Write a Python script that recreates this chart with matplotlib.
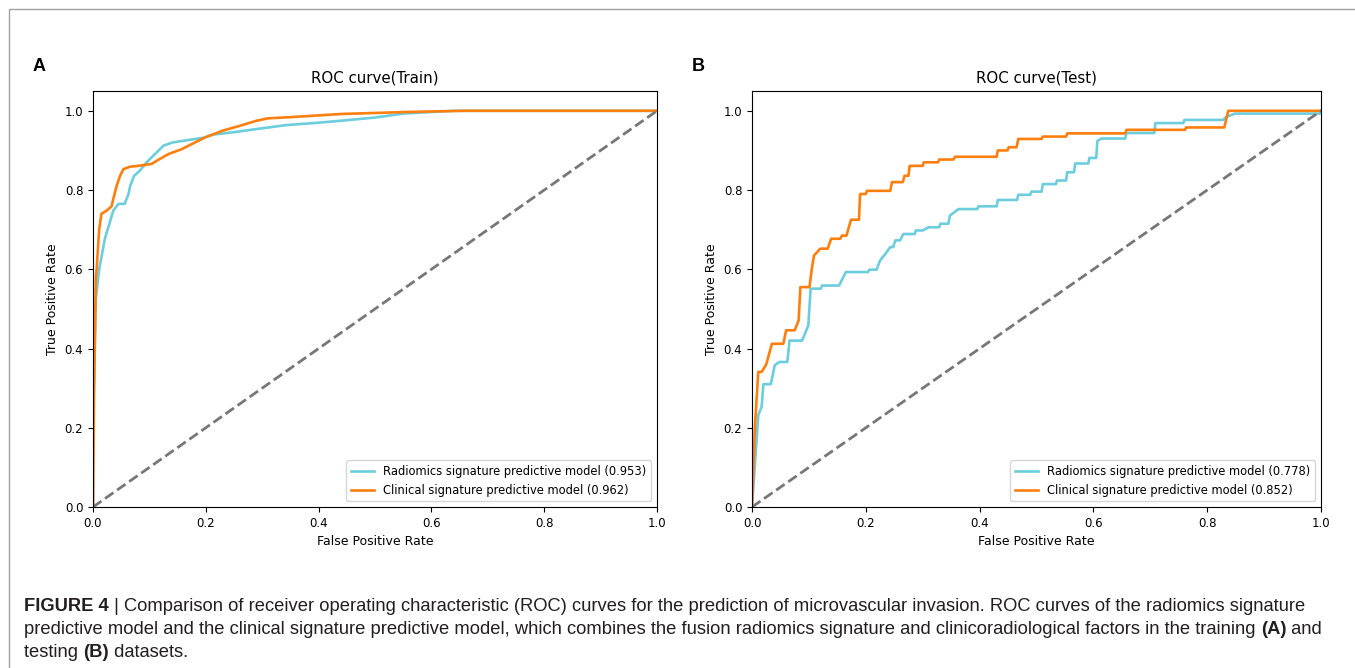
import matplotlib
matplotlib.use("Agg")
import matplotlib.pyplot as plt
from matplotlib.patches import Rectangle

# --- dados (vértices das curvas ROC) ---
train_rad_fpr = [0, 0.0, 0.005, 0.011, 0.021, 0.028, 0.036, 0.045, 0.056, 0.063, 0.066, 0.073,
                 0.083, 0.095, 0.11, 0.125, 0.141, 0.163, 0.196, 0.213, 0.25, 0.29, 0.343,
                 0.40, 0.44, 0.50, 0.55, 0.64, 1.0]
train_rad_tpr = [0, 0.2, 0.526, 0.60, 0.677, 0.71, 0.748, 0.765, 0.765, 0.79, 0.811, 0.836,
                 0.849, 0.87, 0.891, 0.912, 0.92, 0.925, 0.932, 0.94, 0.946, 0.954, 0.964,
                 0.97, 0.975, 0.983, 0.993, 1.0, 1.0]

train_cli_fpr = [0, 0.002, 0.005, 0.0065, 0.008, 0.011, 0.015, 0.024, 0.033, 0.036, 0.042, 0.048,
                 0.054, 0.066, 0.08, 0.104, 0.113, 0.134, 0.157, 0.175, 0.199, 0.23, 0.26,
                 0.29, 0.31, 0.35, 0.44, 0.556, 0.657, 1.0]
train_cli_tpr = [0, 0.3, 0.58, 0.60, 0.635, 0.702, 0.74, 0.748, 0.759, 0.778, 0.811, 0.836,
                 0.853, 0.859, 0.861, 0.866, 0.874, 0.891, 0.903, 0.916, 0.933, 0.95, 0.962,
                 0.975, 0.981, 0.984, 0.992, 0.997, 1.0, 1.0]

test_rad_fpr = [0, 0.011, 0.017, 0.02, 0.033, 0.040, 0.048, 0.062, 0.066, 0.088, 0.099, 0.103,
                0.121, 0.123, 0.153, 0.165, 0.204, 0.206, 0.219, 0.225, 0.235, 0.243, 0.248,
                0.252, 0.26, 0.266, 0.286, 0.288, 0.30, 0.31, 0.329, 0.331, 0.345, 0.348,
                0.363, 0.396, 0.398, 0.43, 0.432, 0.466, 0.468, 0.489, 0.491, 0.509, 0.511,
                0.534, 0.536, 0.552, 0.554, 0.566, 0.568, 0.591, 0.593, 0.605, 0.607, 0.614,
                0.656, 0.658, 0.707, 0.709, 0.758, 0.760, 0.828, 0.834, 0.849, 0.998, 1.0]
test_rad_tpr = [0, 0.232, 0.253, 0.31, 0.31, 0.358, 0.366, 0.366, 0.42, 0.42, 0.458, 0.551,
                0.551, 0.559, 0.559, 0.593, 0.593, 0.599, 0.599, 0.622, 0.64, 0.656, 0.656,
                0.673, 0.673, 0.689, 0.689, 0.698, 0.698, 0.706, 0.706, 0.715, 0.715, 0.736,
                0.752, 0.752, 0.759, 0.759, 0.775, 0.775, 0.788, 0.788, 0.796, 0.796, 0.815,
                0.815, 0.824, 0.824, 0.845, 0.845, 0.867, 0.867, 0.881, 0.881, 0.924, 0.93,
                0.93, 0.944, 0.944, 0.969, 0.969, 0.977, 0.977, 0.985, 0.993, 0.993, 1.0]

test_cli_fpr = [0, 0.005, 0.011, 0.017, 0.025, 0.035, 0.055, 0.060, 0.075, 0.082, 0.085, 0.101,
                0.105, 0.109, 0.12, 0.133, 0.139, 0.155, 0.158, 0.166, 0.174, 0.188, 0.19,
                0.2, 0.202, 0.243, 0.246, 0.265, 0.268, 0.275, 0.277, 0.30, 0.302, 0.327,
                0.329, 0.354, 0.357, 0.43, 0.432, 0.449, 0.451, 0.465, 0.468, 0.509, 0.511,
                0.552, 0.554, 0.656, 0.658, 0.761, 0.763, 0.830, 0.837, 1.0]
test_cli_tpr = [0, 0.2, 0.341, 0.341, 0.36, 0.412, 0.412, 0.446, 0.446, 0.471, 0.555, 0.555,
                0.6, 0.635, 0.652, 0.652, 0.677, 0.677, 0.685, 0.685, 0.725, 0.725, 0.79,
                0.79, 0.798, 0.798, 0.82, 0.82, 0.836, 0.836, 0.861, 0.861, 0.87, 0.87,
                0.877, 0.877, 0.884, 0.884, 0.90, 0.90, 0.908, 0.908, 0.929, 0.929, 0.935,
                0.935, 0.943, 0.943, 0.952, 0.952, 0.958, 0.958, 1.0, 1.0]

auc_train = [0.953, 0.962]
auc_test = [0.778, 0.852]
titles = ["ROC curve(Train)", "ROC curve(Test)"]
panel_labels = ["A", "B"]
legend_names = ["Radiomics signature predictive model", "Clinical signature predictive model"]

cor_rad = "#6ccddd"
cor_cli = "#ff7f0e"

fig = plt.figure(figsize=(13.55, 6.68), dpi=100)

# moldura cinza da figura
fig.patches.append(Rectangle((9 / 1355, -0.01), 1.1, (668 - 9) / 668 + 0.01,
                             transform=fig.transFigure, fill=False,
                             edgecolor="#a0a0a0", linewidth=1.0))

ax_a = fig.add_axes([93 / 1355, 161 / 668, 564 / 1355, 416 / 668])
ax_b = fig.add_axes([752 / 1355, 161 / 668, 569 / 1355, 416 / 668])

dados = [
    (ax_a, train_rad_fpr, train_rad_tpr, train_cli_fpr, train_cli_tpr, auc_train),
    (ax_b, test_rad_fpr, test_rad_tpr, test_cli_fpr, test_cli_tpr, auc_test),
]

for i, (ax, rf, rt, cf, ct, auc) in enumerate(dados):
    ax.plot(rf, rt, color=cor_rad, lw=1.9,
            label=f"{legend_names[0]} ({auc[0]:.3f})")
    ax.plot(cf, ct, color=cor_cli, lw=1.9,
            label=f"{legend_names[1]} ({auc[1]:.3f})")
    ax.plot([0, 1], [0, 1], color="#777777", lw=2, linestyle="--")
    ax.set_xlim(0, 1)
    ax.set_ylim(0, 1.05)
    ax.set_xticks([0, 0.2, 0.4, 0.6, 0.8, 1.0])
    ax.set_yticks([0, 0.2, 0.4, 0.6, 0.8, 1.0])
    ax.tick_params(labelsize=8.5)
    ax.set_xlabel("False Positive Rate", fontsize=9)
    ax.set_ylabel("True Positive Rate", fontsize=9)
    ax.set_title(titles[i], fontsize=10.8)
    ax.legend(loc="lower right", fontsize=8.3)

fig.text(33 / 1355, 1 - 71 / 668, panel_labels[0], fontsize=13, fontweight="bold",
         family="Liberation Sans")
fig.text(692 / 1355, 1 - 71 / 668, panel_labels[1], fontsize=13, fontweight="bold",
         family="Liberation Sans")

# legenda da figura (texto corrido)
fam = "Liberation Sans"
tam = 13.2
cor_txt = "#231f20"


def trecho(texto, anterior=None, x=None, y=None, negrito=False):
    peso = "bold" if negrito else "normal"
    if anterior is None:
        return fig.text(x, y, texto, fontsize=tam, family=fam, weight=peso,
                        va="bottom", color=cor_txt)
    return fig.add_artist(plt.Annotation(texto, xy=(1, 0), xycoords=anterior,
                                         va="bottom", ha="left", fontsize=tam,
                                         family=fam, weight=peso, color=cor_txt))


t = trecho("FIGURE 4", x=24 / 1355, y=1 - 615 / 668, negrito=True)
trecho(" | Comparison of receiver operating characteristic (ROC) curves for the prediction "
       "of microvascular invasion. ROC curves of the radiomics signature", anterior=t)
t = trecho("predictive model and the clinical signature predictive model, which combines the "
           "fusion radiomics signature and clinicoradiological factors in the training ",
           x=24 / 1355, y=1 - 638 / 668)
t = trecho("(A)", anterior=t, negrito=True)
trecho(" and", anterior=t)
t = trecho("testing ", x=24 / 1355, y=1 - 661 / 668)
t = trecho("(B)", anterior=t, negrito=True)
trecho(" datasets.", anterior=t)

fig.savefig("out.png", dpi=100)
